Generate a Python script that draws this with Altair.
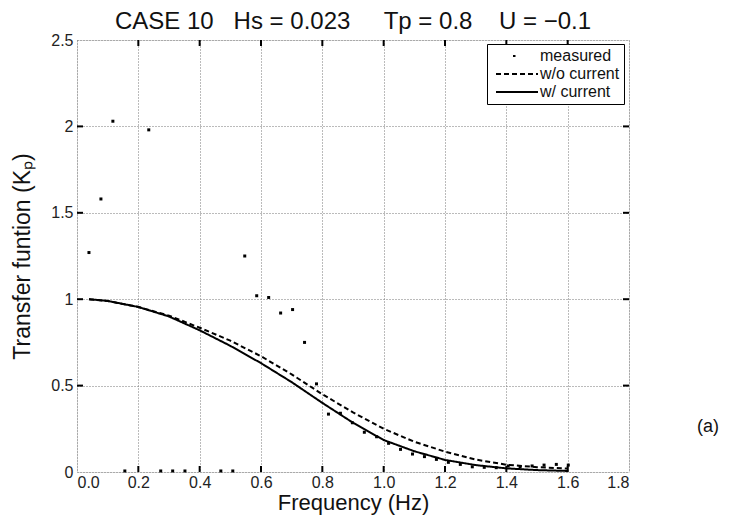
import altair as alt
import pandas as pd

# ---------------- data ----------------
meas_f = [0.039, 0.078, 0.117, 0.156, 0.234, 0.273, 0.312, 0.352, 0.469, 0.508,
          0.547, 0.586, 0.625, 0.664, 0.703, 0.742,
          0.781, 0.820, 0.859, 0.898, 0.937, 0.977, 1.016, 1.055, 1.094, 1.133,
          1.172, 1.211, 1.250, 1.289, 1.328, 1.367, 1.406, 1.445, 1.484, 1.523,
          1.563, 1.602]
meas_k = [1.27, 1.58, 2.03, 0.006, 1.98, 0.006, 0.006, 0.006, 0.006, 0.006,
          1.25, 1.02, 1.01, 0.92, 0.94, 0.75,
          0.51, 0.335, 0.34, 0.285, 0.23, 0.204, 0.166, 0.131, 0.104, 0.089,
          0.073, 0.056, 0.044, 0.030, 0.027, 0.025, 0.035, 0.030, 0.035, 0.040,
          0.044, 0.040]

curve_f = [0.039, 0.1, 0.2, 0.3, 0.4, 0.5, 0.6, 0.7, 0.8, 0.9, 1.0, 1.1, 1.2,
           1.3, 1.4, 1.5, 1.602]
k_wo = [1.0, 0.99, 0.955, 0.905, 0.835, 0.76, 0.67, 0.565, 0.45, 0.345, 0.25,
        0.175, 0.118, 0.072, 0.042, 0.028, 0.02]
k_w = [1.0, 0.99, 0.955, 0.90, 0.82, 0.73, 0.63, 0.52, 0.40, 0.285, 0.185,
       0.12, 0.07, 0.04, 0.021, 0.011, 0.006]

series = ["measured", "w/o current", "w/ current"]
x_ticks = [0.2, 0.4, 0.6, 0.8, 1.0, 1.2, 1.4, 1.6]
y_ticks = [0.5, 1.0, 1.5, 2.0]
x_labels = [0, 0.2, 0.4, 0.6, 0.8, 1.0, 1.2, 1.4, 1.6, 1.8]
y_labels = [0, 0.5, 1.0, 1.5, 2.0, 2.5]

title_text = "CASE 10\u00a0\u00a0\u00a0Hs = 0.023\u00a0\u00a0\u00a0\u00a0\u00a0Tp = 0.8\u00a0\u00a0\u00a0\u00a0U = \u22120.1"

W, H = 552, 432
FONT = "Liberation Sans"

meas_df = pd.DataFrame({"f": meas_f, "k": meas_k})
curve_df = pd.concat([
    pd.DataFrame({"f": curve_f, "k": k_wo, "s": series[1]}),
    pd.DataFrame({"f": curve_f, "k": k_w, "s": series[2]}),
])
xt_df = pd.DataFrame({"t": x_ticks})
yt_df = pd.DataFrame({"t": y_ticks})

xscale = alt.Scale(domain=[0, 1.8], nice=False, zero=False, padding=0)
yscale = alt.Scale(domain=[0, 2.5], nice=False, padding=0)

xaxis = alt.Axis(values=x_labels, format=".1f",
                 title="Frequency (Hz)", ticks=False, domain=False,
                 grid=True, gridDash=[1, 2], gridColor="#777", gridWidth=1,
                 labelFont=FONT, labelFontSize=16, labelColor="#222", labelPadding=2,
                 titleFont=FONT, titleFontSize=22, titleFontWeight="normal",
                 titleColor="#111", titlePadding=2)
yaxis = alt.Axis(values=y_labels, labelExpr="'' + datum.value",
                 title="Transfer funtion (K\u209a)",
                 ticks=False, domain=False,
                 grid=True, gridDash=[1, 2], gridColor="#777", gridWidth=1,
                 labelFont=FONT, labelFontSize=16, labelColor="#222", labelPadding=4,
                 titleFont=FONT, titleFontSize=23, titleFontWeight="normal",
                 titleColor="#111", titlePadding=16)

lines = alt.Chart(curve_df).mark_line(color="black", strokeWidth=2, clip=True).encode(
    x=alt.X("f:Q", scale=xscale, axis=xaxis),
    y=alt.Y("k:Q", scale=yscale, axis=yaxis),
    strokeDash=alt.StrokeDash(
        "s:N",
        scale=alt.Scale(domain=series, range=[[0, 17, 2.5, 200], [5, 3], [1, 0]]),
        legend=alt.Legend(
            title=None, orient="none", legendX=410, legendY=4,
            strokeColor="black", fillColor="white", padding=4,
            symbolType="M-0.4286,0H5.5714", symbolSize=196, symbolStrokeWidth=2,
            symbolStrokeColor="black", labelFont=FONT, labelFontSize=16,
            labelColor="#111", labelOffset=33, rowPadding=2, cornerRadius=0,
        ),
    ),
)

points = alt.Chart(meas_df).mark_square(color="black", size=9, opacity=1).encode(
    x=alt.X("f:Q", scale=xscale),
    y=alt.Y("k:Q", scale=yscale),
)

tick_b = alt.Chart(xt_df).mark_rule(color="black", strokeWidth=2).encode(
    x=alt.X("t:Q", scale=xscale), y=alt.value(H), y2=alt.value(H - 6))
tick_t = alt.Chart(xt_df).mark_rule(color="black", strokeWidth=2).encode(
    x=alt.X("t:Q", scale=xscale), y=alt.value(0), y2=alt.value(6))
tick_l = alt.Chart(yt_df).mark_rule(color="black", strokeWidth=2).encode(
    y=alt.Y("t:Q", scale=yscale), x=alt.value(0), x2=alt.value(6))
tick_r = alt.Chart(yt_df).mark_rule(color="black", strokeWidth=2).encode(
    y=alt.Y("t:Q", scale=yscale), x=alt.value(W), x2=alt.value(W - 6))

label_a = alt.Chart(pd.DataFrame({"t": ["(a)"]})).mark_text(
    font=FONT, fontSize=18, color="#111", align="center", baseline="middle", clip=False
).encode(text="t:N", x=alt.value(W + 79), y=alt.value(H - 45))

chart = alt.layer(lines, points, tick_b, tick_t, tick_l, tick_r, label_a).properties(
    width=W, height=H,
    title=alt.TitleParams(title_text, font=FONT, fontSize=24, fontWeight="normal",
                          color="#111", anchor="middle", offset=0, dy=2),
    autosize=alt.AutoSizeParams(type="none"),
    padding={"left": 69, "top": 32, "right": 94, "bottom": 50},
).configure_view(stroke="black", strokeWidth=2).configure(background="white")

chart.save("out.html", embed_options={"renderer": "svg", "actions": False})
